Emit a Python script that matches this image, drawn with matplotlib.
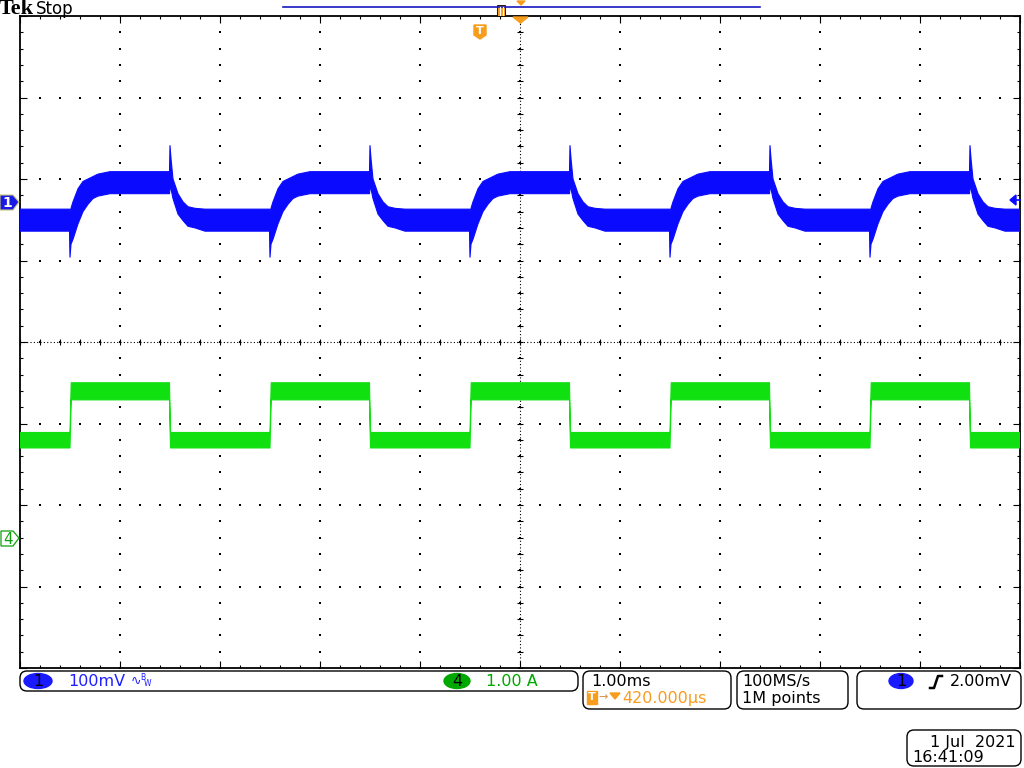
import numpy as np
import matplotlib
matplotlib.use('Agg')
import matplotlib.pyplot as plt
from matplotlib.patches import FancyBboxPatch, Ellipse, Polygon, Rectangle

# channel 1 (mV), envelope of the noisy trace over one period, time from a current rising edge (ms)
ch1_t  = [0.00, 0.01, 0.03, 0.08, 0.13, 0.18, 0.23, 0.28, 0.40, 0.995, 1.00, 1.01, 1.03, 1.08, 1.13, 1.18, 1.25, 1.35, 1.995]
ch1_hi = [-12, -8, 0, 16, 25, 28, 31, 34, 37, 37, 69, 53, 28, 10, 0, -6, -8, -9, -9]
ch1_lo = [-68, -52, -46, -27, -12, -3, 4, 7, 10, 10, 16, 16, 4, -15, -23, -30, -32, -36, -36]

# channel 4 (A), same period
ch4_t  = [0.00, 0.012, 0.995, 1.005, 1.995]
ch4_hi = [1.29, 1.90, 1.90, 1.29, 1.29]
ch4_lo = [1.10, 1.69, 1.69, 1.10, 1.10]

rise_edges = [-6.5, -4.5, -2.5, -0.5, 1.5, 3.5]   # ms
ch1_pos, ch4_pos = 1.72, -2.40                     # divisions
ch1_scale, ch4_scale = 100.0, 1.0                  # per division

BLUE = '#0a0aff'
GREEN = '#10e010'
ORANGE = '#f89c1c'


def build(t0s, tt, hi, lo):
    t = np.concatenate([e + np.array(tt) for e in t0s])
    h = np.concatenate([np.array(hi, float) for e in t0s])
    l = np.concatenate([np.array(lo, float) for e in t0s])
    return t, h, l


fig = plt.figure(figsize=(10.24, 7.68), dpi=100)
ax = fig.add_axes([20/1024, 100/768, 1000/1024, 652/768])
ax.set_xlim(-5, 5)
ax.set_ylim(-4, 4)

t, h, l = build(rise_edges, ch1_t, ch1_hi, ch1_lo)
ax.fill_between(t, l/ch1_scale + ch1_pos, h/ch1_scale + ch1_pos, color=BLUE, lw=0.8, zorder=3)
t, h, l = build(rise_edges, ch4_t, ch4_hi, ch4_lo)
ax.fill_between(t, l/ch4_scale + ch4_pos, h/ch4_scale + ch4_pos, color=GREEN, lw=0.8, zorder=3)

# dotted graticule
maj_x = np.arange(-4, 5, 1)
maj_y = np.arange(-3, 4, 1)
min_x = np.arange(-5, 5.01, 0.2)
min_y = np.arange(-4, 4.01, 0.2)
gx, gy = np.meshgrid(maj_x, min_y)
ax.scatter(gx.ravel(), gy.ravel(), s=0.8, marker='s', color='black', lw=0, zorder=1)
gx, gy = np.meshgrid(min_x, maj_y)
ax.scatter(gx.ravel(), gy.ravel(), s=0.8, marker='s', color='black', lw=0, zorder=1)
ax.axhline(0, color='black', lw=0.8, ls=(0, (1, 2)), zorder=1)
ax.axvline(0, color='black', lw=0.8, ls=(0, (1, 2)), zorder=1)
ax.scatter(min_x, np.zeros_like(min_x), marker='|', s=18, lw=0.8, color='black', zorder=1)
ax.scatter(np.zeros_like(min_y), min_y, marker='_', s=18, lw=0.8, color='black', zorder=1)

ax.set_xticks(np.arange(-5, 6, 1))
ax.set_yticks(np.arange(-4, 5, 1))
ax.set_xticks(min_x, minor=True)
ax.set_yticks(min_y, minor=True)
ax.tick_params(which='both', direction='in', top=True, right=True,
               labelbottom=False, labelleft=False, color='black')
ax.tick_params(which='major', length=5, width=0.8)
ax.tick_params(which='minor', length=2.5, width=0.8)
for s in ax.spines.values():
    s.set_linewidth(1.3)

# overlay in pixel coordinates for the scope annotations
ov = fig.add_axes([0, 0, 1, 1], zorder=5)
ov.set_xlim(0, 1024)
ov.set_ylim(768, 0)
ov.axis('off')
ov.patch.set_alpha(0)

ov.text(-1, 9, 'Tek', family='Liberation Serif', weight='bold', fontsize=16, va='center', ha='left')
ov.text(36, 9, 'Stop', fontsize=12, va='center', ha='left')
ov.plot([283, 760], [7, 7], color='#1818c0', lw=1.2)
ov.add_patch(Rectangle((497, 5), 8, 11, facecolor=ORANGE, edgecolor='black', lw=0.6))
ov.plot([500, 500], [7, 15], color='white', lw=0.8)
ov.plot([502.5, 502.5], [7, 15], color='white', lw=0.8)
ov.add_patch(Polygon([(517, 1), (525, 1), (521, 5)], color=ORANGE))
ov.add_patch(Polygon([(513, 17), (528, 17), (520.5, 23)], color=ORANGE))
ov.add_patch(Polygon([(474, 25), (486, 25), (486, 35), (480, 39), (474, 35)], color=ORANGE))
ov.text(480, 31, 'T', color='white', fontsize=8, weight='bold', ha='center', va='center')

# channel markers
ov.add_patch(Polygon([(0, 195), (13, 195), (19, 202), (13, 210), (0, 210)],
                     facecolor='#1a1ae6', edgecolor='#c8c878', lw=0.8))
ov.text(7, 203, '1', color='white', fontsize=10, weight='bold', ha='center', va='center')
ov.add_patch(Polygon([(1, 531), (13, 531), (19, 538), (13, 546), (1, 546)],
                     facecolor='white', edgecolor='#10a010', lw=0.9))
ov.text(8, 539, '4', color='#10a010', fontsize=11, ha='center', va='center')
ov.add_patch(Polygon([(1010, 200), (1016, 195), (1016, 205)], color=BLUE))
ov.plot([1014, 1020], [200, 200], color=BLUE, lw=1.2)


def box(x0, y0, x1, y1):
    ov.add_patch(FancyBboxPatch((x0, y0), x1 - x0, y1 - y0,
                                boxstyle='round,pad=0,rounding_size=7',
                                facecolor='white', edgecolor='black', lw=1))


box(20, 671, 578, 691)
box(583, 671, 731, 709)
box(737, 671, 848, 709)
box(857, 671, 1021, 709)
box(907, 730, 1021, 766)

FS = 11.5
ov.add_patch(Ellipse((38, 681), 28, 15, color='#1a1aff'))
ov.text(38, 681.5, '1', fontsize=FS, ha='center', va='center')
ov.text(68, 681.5, '100mV', color='#1f1fff', fontsize=FS, ha='left', va='center')
ov.text(131, 681, '∿', color='#1f1fff', fontsize=9, ha='left', va='center')
ov.text(140, 678, 'B', color='#1f1fff', fontsize=5.5, ha='left', va='center')
ov.text(144, 684, 'W', color='#1f1fff', fontsize=5.5, ha='left', va='center')
ov.add_patch(Ellipse((457, 681), 26, 15, color='#00a800'))
ov.text(457, 681.5, '4', fontsize=FS, ha='center', va='center')
ov.text(486, 681.5, '1.00 A', color='#00a800', fontsize=FS, ha='left', va='center')

ov.text(591, 681.5, '1.00ms', fontsize=FS, ha='left', va='center')
ov.add_patch(Rectangle((587, 691), 10, 13, color=ORANGE))
ov.text(592, 697.5, 'T', color='white', fontsize=8, weight='bold', ha='center', va='center')
ov.text(598, 697, '→', color='#d89040', fontsize=8, ha='left', va='center')
ov.add_patch(Polygon([(610, 693), (620, 693), (615, 699)], color=ORANGE))
ov.text(622, 698, '420.000µs', color=ORANGE, fontsize=FS, ha='left', va='center')

ov.text(742, 681.5, '100MS/s', fontsize=FS, ha='left', va='center')
ov.text(742, 698, '1M points', fontsize=FS, ha='left', va='center')

ov.add_patch(Ellipse((901, 681), 24, 15, color='#1a1aff'))
ov.text(901, 681.5, '1', fontsize=FS, ha='center', va='center')
ov.plot([930, 934, 938, 942], [688, 688, 676, 676], color='black', lw=1.8)
ov.text(950, 681.5, '2.00mV', fontsize=FS, ha='left', va='center')

ov.text(1016, 742, '1 Jul  2021', fontsize=FS, ha='right', va='center')
ov.text(912, 757, '16:41:09', fontsize=FS, ha='left', va='center')

fig.savefig('out.png', dpi=100, facecolor='white')
